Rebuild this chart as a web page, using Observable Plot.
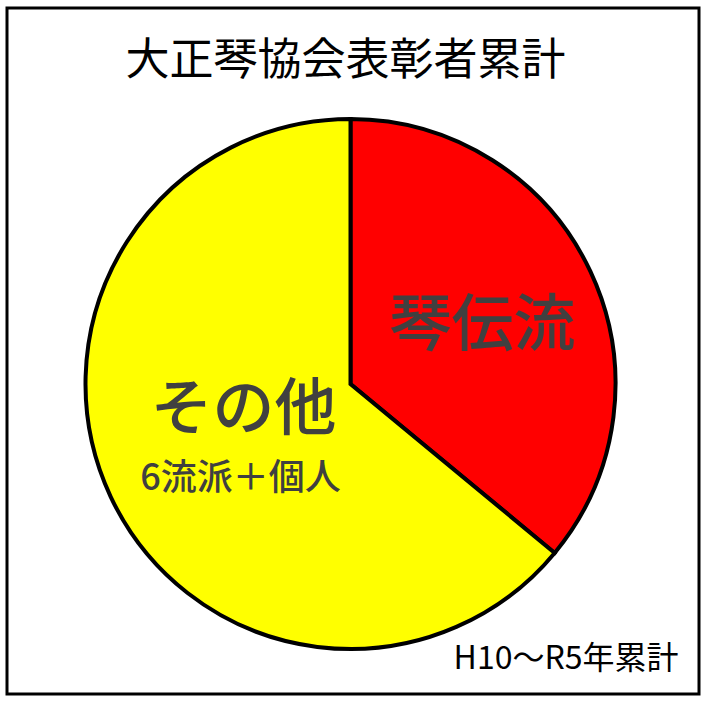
<!DOCTYPE html>
<html>
<head>
<meta charset="utf-8">
<script src="https://cdn.jsdelivr.net/npm/d3@7"></script>
<script src="https://cdn.jsdelivr.net/npm/@observablehq/plot@0.6"></script>
<style>
  html, body { margin: 0; padding: 0; background: #fff; }
  svg { display: block; font-family: "Noto Sans CJK JP", "Noto Sans", sans-serif; }
</style>
</head>
<body>
<div id="chart"></div>
<script>
// ---- data ----
const categories = ["琴伝流", "その他"];
const values = [36, 64];
const colors = ["#ff0000", "#ffff00"];
const titleText = "大正琴協会表彰者累計";
const subLabel = "6流派＋個人";
const periodText = "H10〜R5年累計";

const data = categories.map((c, i) => ({category: c, value: values[i]}));
const colorScale = Plot.scale({color: {type: "ordinal", domain: categories, range: colors}});

const W = 706, H = 702;
const cx = 350.5, cy = 384, R = 265;

function pieMark(rows) {
  return (index, scales, vals, dims, context) => {
    const g = d3.create("svg:g")
      .attr("transform", `translate(${scales.x(cx)},${scales.y(cy)})`);
    const arcs = d3.pie().sort(null).value(d => d.value)(rows);
    const arc = d3.arc().innerRadius(0).outerRadius(R);
    g.selectAll("path").data(arcs).join("path")
      .attr("d", arc)
      .attr("fill", d => colorScale.apply(d.data.category))
      .attr("stroke", "#000")
      .attr("stroke-width", 4)
      .attr("stroke-linejoin", "miter");
    return g.node();
  };
}

const chart = Plot.plot({
  width: W,
  height: H,
  margin: 0,
  x: {domain: [0, W], range: [0, W], axis: null},
  y: {domain: [0, H], range: [0, H], axis: null},
  style: {fontFamily: '"Noto Sans CJK JP", "Noto Sans", sans-serif', background: "#fff"},
  marks: [
    Plot.frame({stroke: "#000", strokeWidth: 3, insetLeft: 6.5, insetTop: 7.5, insetRight: 7.5, insetBottom: 8.5}),
    pieMark(data),
    Plot.text([titleText], {x: () => 345, y: () => 60, text: d => d, fontSize: 44, fill: "#000"}),
    Plot.text([categories[0]], {x: () => 482, y: () => 326, text: d => d, fontSize: 62, fontWeight: 500, fill: "#404040"}),
    Plot.text([categories[1]], {x: () => 243, y: () => 410, text: d => d, fontSize: 62, fontWeight: 500, fill: "#404040"}),
    Plot.text([subLabel], {x: () => 240, y: () => 478, text: d => d, fontSize: 36, fontWeight: 500, fill: "#404040"}),
    Plot.text([periodText], {x: () => 678, y: () => 658, text: d => d, fontSize: 32, fill: "#000", textAnchor: "end"})
  ]
});
document.getElementById("chart").appendChild(chart);
</script>
</body>
</html>
